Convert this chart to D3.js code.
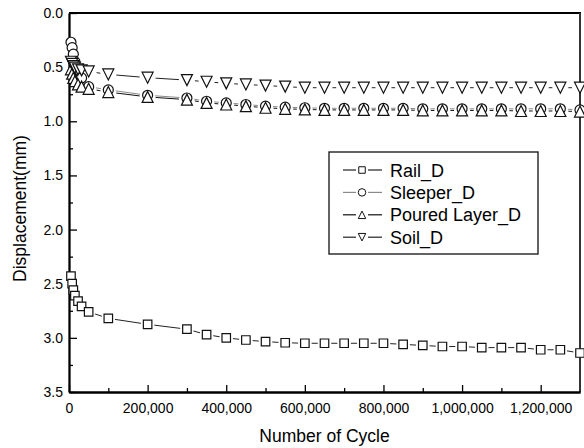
<!DOCTYPE html>
<html>
<head>
<meta charset="utf-8">
<script src="https://cdn.jsdelivr.net/npm/d3@7/dist/d3.min.js"></script>
<style>
  html, body { margin: 0; padding: 0; background: #fff; }
  svg { display: block; font-family: "Liberation Sans", Arial, sans-serif; }
</style>
</head>
<body>
<svg id="chart" width="584" height="448"></svg>
<script>
// Loading cycles shared by all four measurement series
const cycles = [5000, 8000, 11000, 15000, 23000, 32000, 50000, 100000, 200000, 300000,
  350000, 400000, 450000, 500000, 550000, 600000, 650000, 700000, 750000, 800000,
  850000, 900000, 950000, 1000000, 1050000, 1100000, 1150000, 1200000, 1250000, 1300000];

// Displacements (mm)
const railD = [2.43, 2.50, 2.56, 2.61, 2.66, 2.71, 2.76, 2.82, 2.875, 2.92,
  2.97, 3.00, 3.02, 3.035, 3.045, 3.05, 3.05, 3.05, 3.05, 3.05,
  3.06, 3.07, 3.08, 3.08, 3.09, 3.09, 3.09, 3.11, 3.11, 3.14];
const sleeperD = [0.27, 0.32, 0.38, 0.45, 0.53, 0.60, 0.68, 0.71, 0.76, 0.785,
  0.815, 0.83, 0.845, 0.86, 0.87, 0.875, 0.88, 0.88, 0.88, 0.88,
  0.88, 0.885, 0.885, 0.885, 0.885, 0.885, 0.885, 0.885, 0.885, 0.895];
const pouredD = [0.52, 0.56, 0.60, 0.63, 0.66, 0.68, 0.70, 0.73, 0.775, 0.80,
  0.83, 0.845, 0.86, 0.875, 0.885, 0.89, 0.895, 0.895, 0.895, 0.895,
  0.895, 0.90, 0.90, 0.90, 0.90, 0.90, 0.905, 0.905, 0.905, 0.91];
const soilD = [0.45, 0.47, 0.49, 0.505, 0.52, 0.53, 0.54, 0.567, 0.597, 0.62,
  0.635, 0.65, 0.66, 0.67, 0.68, 0.69, 0.69, 0.69, 0.69, 0.69,
  0.69, 0.69, 0.69, 0.69, 0.69, 0.69, 0.69, 0.69, 0.69, 0.69];

const seriesNames = ["Rail_D", "Sleeper_D", "Poured Layer_D", "Soil_D"];
const seriesValues = [railD, sleeperD, pouredD, soilD];
const seriesSymbols = ["square", "circle", "triUp", "triDown"];
const seriesLineColors = ["#222", "#8a8a8a", "#111", "#222"];

const xTicks = [0, 200000, 400000, 600000, 800000, 1000000, 1200000];
const yTicks = [0.0, 0.5, 1.0, 1.5, 2.0, 2.5, 3.0, 3.5];

const svg = d3.select("#chart");
const plotL = 69, plotR = 580, plotT = 13, plotB = 392;

const x = d3.scaleLinear().domain([0, 1300000]).range([plotL, plotR]);
const y = d3.scaleLinear().domain([0, 3.5]).range([plotT, plotB]);

// symbol path generators, centred on their bounding boxes
function symbolPath(kind, s) {
  const h = s / 2;
  if (kind === "square") return `M${-h},${-h}H${h}V${h}H${-h}Z`;
  if (kind === "circle") return `M${h},0A${h},${h} 0 1,1 ${-h},0A${h},${h} 0 1,1 ${h},0Z`;
  if (kind === "triUp") return `M0,${-h}L${h},${h}L${-h},${h}Z`;
  return `M0,${h}L${h},${-h}L${-h},${-h}Z`;
}
const symbolSize = { square: 8.5, circle: 10, triUp: 11, triDown: 11 };

// frame
const frame = svg.append("g");
frame.append("line").attr("x1", plotL).attr("x2", plotR + 1).attr("y1", plotT).attr("y2", plotT)
  .attr("stroke", "#000").attr("stroke-width", 2);
frame.append("line").attr("x1", plotR).attr("x2", plotR).attr("y1", plotT).attr("y2", plotB)
  .attr("stroke", "#333").attr("stroke-width", 2);

// axes
const fmtY = d3.format(".1f");
const yAxis = svg.append("g").attr("transform", `translate(${plotL},0)`)
  .call(d3.axisLeft(y).tickValues(yTicks).tickFormat(fmtY).tickSizeInner(-8).tickSizeOuter(0).tickPadding(6));
const yMinor = svg.append("g").attr("transform", `translate(${plotL},0)`)
  .call(d3.axisLeft(y).tickValues(d3.range(0.25, 3.5, 0.5)).tickFormat("").tickSizeInner(-4).tickSizeOuter(0));
const xAxis = svg.append("g").attr("transform", `translate(0,${plotB})`)
  .call(d3.axisBottom(x).tickValues(xTicks).tickFormat(d3.format(",")).tickSizeInner(-7).tickSizeOuter(0).tickPadding(11));
const xMinor = svg.append("g").attr("transform", `translate(0,${plotB})`)
  .call(d3.axisBottom(x).tickValues(d3.range(100000, 1300000, 200000)).tickFormat("").tickSizeInner(-4).tickSizeOuter(0));

[yAxis, yMinor, xAxis, xMinor].forEach(g => {
  g.select(".domain").attr("stroke", "#000").attr("stroke-width", 1.8);
  g.selectAll(".tick line").attr("stroke", "#000").attr("stroke-width", 1.3);
  g.selectAll(".tick text").attr("fill", "#000").style("font-size", "14px")
    .style("font-family", "'Liberation Sans', Arial, sans-serif");
});

// axis titles
svg.append("text").attr("x", (plotL + plotR) / 2).attr("y", 442).attr("text-anchor", "middle")
  .style("font-size", "17.5px").attr("fill", "#000").text("Number of Cycle");
svg.append("text").attr("transform", `translate(26,${(plotT + plotB) / 2 + 6}) rotate(-90)`)
  .attr("text-anchor", "middle").style("font-size", "17.5px").attr("fill", "#000")
  .text("Displacement(mm)");

// series: line segments broken around each symbol, then the symbols
const lineGen = d3.line();
seriesValues.forEach((vals, si) => {
  const kind = seriesSymbols[si];
  const pts = cycles.map((c, i) => [x(c), y(vals[i])]);
  const gap = symbolSize[kind] / 2 + 2.5;
  const g = svg.append("g");
  for (let i = 0; i < pts.length - 1; i++) {
    const [x0, y0] = pts[i], [x1, y1] = pts[i + 1];
    const d = Math.hypot(x1 - x0, y1 - y0);
    if (d <= 2 * gap + 0.5) continue;
    const ux = (x1 - x0) / d, uy = (y1 - y0) / d;
    g.append("path")
      .attr("d", lineGen([[x0 + ux * gap, y0 + uy * gap], [x1 - ux * gap, y1 - uy * gap]]))
      .attr("fill", "none").attr("stroke", seriesLineColors[si]).attr("stroke-width", 1);
  }
  g.selectAll("path.sym").data(pts).join("path").attr("class", "sym")
    .attr("transform", p => `translate(${p[0]},${p[1]})`)
    .attr("d", symbolPath(kind, symbolSize[kind]))
    .attr("fill", "#fff").attr("stroke", "#111").attr("stroke-width", 1.2);
});

// legend
const lg = svg.append("g");
lg.append("rect").attr("x", 329).attr("y", 152).attr("width", 209).attr("height", 102)
  .attr("fill", "#fff").attr("stroke", "#222").attr("stroke-width", 1.4);
seriesNames.forEach((name, i) => {
  const cy = 170 + i * 22.4;
  const kind = seriesSymbols[i];
  lg.append("path").attr("d", lineGen([[343, cy], [356, cy]]))
    .attr("stroke", seriesLineColors[i]).attr("stroke-width", 1.2);
  lg.append("path").attr("d", lineGen([[368, cy], [382, cy]]))
    .attr("stroke", seriesLineColors[i]).attr("stroke-width", 1.2);
  lg.append("path").attr("transform", `translate(362,${cy})`)
    .attr("d", symbolPath(kind, kind === "square" ? 6.5 : 7.5))
    .attr("fill", "#fff").attr("stroke", "#111").attr("stroke-width", 1);
  lg.append("text").attr("x", 390).attr("y", cy + 6.5).style("font-size", "18px")
    .attr("fill", "#000").text(name);
});
</script>
</body>
</html>
